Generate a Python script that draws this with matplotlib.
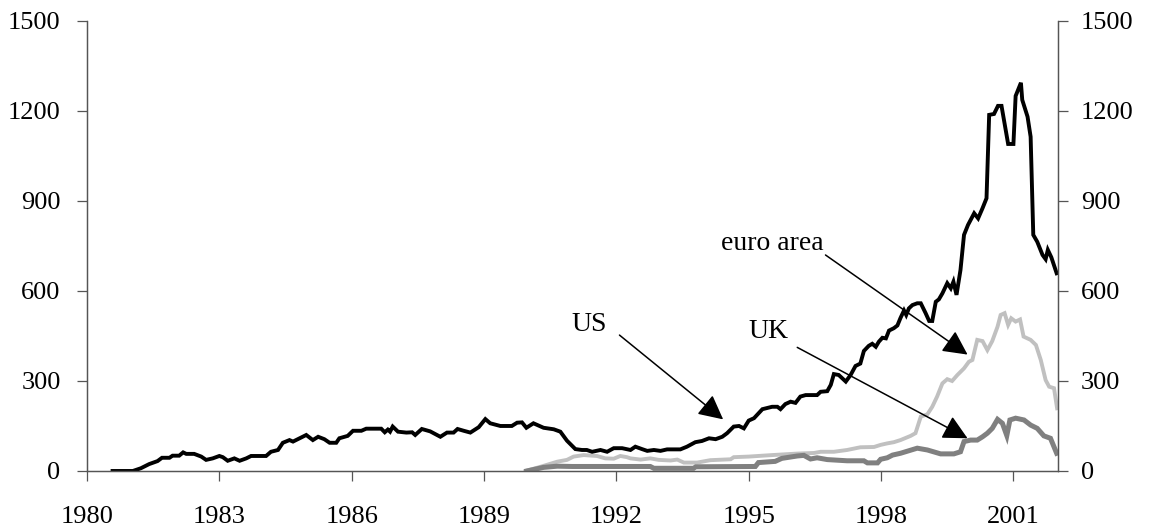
import matplotlib
matplotlib.use("Agg")
import matplotlib.pyplot as plt

plt.rcParams["font.family"] = ["Liberation Serif", "DejaVu Serif"]

us_years = [1980.58, 1981.04, 1981.22, 1981.41, 1981.60, 1981.70, 1981.87, 1981.94, 1982.09, 1982.18,
            1982.25, 1982.43, 1982.59, 1982.70, 1982.85, 1983.00, 1983.08, 1983.19, 1983.34, 1983.46,
            1983.61, 1983.72, 1984.06, 1984.17, 1984.33, 1984.44, 1984.59, 1984.67, 1984.82, 1984.97,
            1985.12, 1985.24, 1985.38, 1985.50, 1985.65, 1985.72, 1985.91, 1986.03, 1986.22, 1986.33,
            1986.67, 1986.75, 1986.82, 1986.87, 1986.93, 1987.05, 1987.24, 1987.37, 1987.44, 1987.59,
            1987.78, 1988.01, 1988.16, 1988.31, 1988.40, 1988.54, 1988.69, 1988.88, 1989.03, 1989.14,
            1989.37, 1989.63, 1989.75, 1989.86, 1989.96, 1990.12, 1990.35, 1990.58, 1990.73, 1990.88,
            1991.07, 1991.22, 1991.33, 1991.45, 1991.64, 1991.79, 1991.94, 1992.13, 1992.32, 1992.43,
            1992.58, 1992.70, 1992.85, 1993.00, 1993.15, 1993.45, 1993.60, 1993.79, 1993.94, 1994.10,
            1994.25, 1994.40, 1994.51, 1994.66, 1994.78, 1994.89, 1995.00, 1995.12, 1995.19, 1995.31,
            1995.42, 1995.53, 1995.65, 1995.72, 1995.83, 1995.95, 1996.06, 1996.17, 1996.29, 1996.55,
            1996.63, 1996.78, 1996.86, 1996.93, 1997.04, 1997.20, 1997.31, 1997.42, 1997.53, 1997.61,
            1997.72, 1997.80, 1997.88, 1997.95, 1998.03, 1998.11, 1998.18, 1998.29, 1998.37, 1998.44,
            1998.52, 1998.57, 1998.63, 1998.71, 1998.82, 1998.90, 1999.01, 1999.09, 1999.16, 1999.24,
            1999.31, 1999.39, 1999.50, 1999.58, 1999.64, 1999.71, 1999.80, 1999.88, 1999.97, 2000.11,
            2000.20, 2000.30, 2000.39, 2000.45, 2000.56, 2000.65, 2000.73, 2000.88, 2001.00, 2001.05,
            2001.17, 2001.20, 2001.32, 2001.39, 2001.45, 2001.54, 2001.66, 2001.73, 2001.78, 2001.86,
            2001.98]
us_values = [0, 0, 9, 23, 33, 44, 44, 51, 51, 62,
             57, 57, 48, 37, 42, 50, 46, 34, 42, 34,
             42, 50, 50, 64, 70, 94, 103, 98, 109, 120,
             103, 114, 106, 94, 94, 109, 117, 134, 134, 141,
             141, 129, 138, 131, 148, 131, 128, 129, 120, 140,
             132, 114, 128, 128, 140, 134, 128, 146, 173, 159,
             150, 150, 161, 162, 144, 159, 144, 139, 131, 101,
             73, 70, 70, 64, 70, 64, 76, 76, 70, 81,
             73, 67, 70, 67, 72, 72, 81, 96, 100, 109,
             106, 114, 126, 148, 150, 142, 168, 176, 187, 206,
             210, 214, 214, 206, 223, 231, 227, 248, 253, 253,
             264, 266, 287, 323, 320, 298, 320, 350, 358, 400,
             417, 424, 414, 431, 444, 442, 468, 476, 485, 510,
             535, 520, 542, 553, 559, 559, 526, 500, 500, 564,
             572, 592, 626, 609, 631, 587, 670, 787, 820, 859,
             842, 876, 909, 1187, 1190, 1217, 1217, 1090, 1090, 1250,
             1294, 1237, 1181, 1114, 787, 764, 720, 706, 737, 712,
             659]

euro_years = [1989.94, 1990.28, 1990.66, 1990.88, 1991.03, 1991.26, 1991.56, 1991.75, 1991.94, 1992.09,
              1992.24, 1992.32, 1992.55, 1992.77, 1992.96, 1993.23, 1993.38, 1993.53, 1993.83, 1994.13,
              1994.59, 1994.66, 1995.00, 1995.53, 1996.10, 1996.48, 1996.63, 1996.93, 1997.23, 1997.53,
              1997.84, 1997.99, 1998.14, 1998.29, 1998.44, 1998.67, 1998.78, 1998.90, 1999.05, 1999.16,
              1999.27, 1999.39, 1999.50, 1999.61, 1999.73, 1999.88, 1999.99, 2000.07, 2000.18, 2000.30,
              2000.41, 2000.52, 2000.64, 2000.71, 2000.80, 2000.88, 2000.95, 2001.05, 2001.15, 2001.23,
              2001.39, 2001.51, 2001.62, 2001.73, 2001.81, 2001.92, 2001.99]
euro_values = [0, 14, 31, 37, 48, 53, 50, 42, 41, 50,
               46, 42, 38, 42, 37, 35, 38, 28, 28, 36,
               39, 46, 48, 53, 58, 60, 64, 64, 70, 79,
               80, 87, 92, 96, 103, 117, 126, 181, 189, 214,
               248, 292, 306, 300, 320, 342, 364, 370, 437, 433,
               403, 433, 481, 520, 526, 487, 509, 498, 505, 448,
               437, 420, 370, 303, 281, 276, 209]

uk_years = [1989.97, 1990.35, 1990.66, 1991.00, 1992.77, 1992.85, 1993.75, 1993.80, 1995.15, 1995.22,
            1995.60, 1995.75, 1996.10, 1996.25, 1996.40, 1996.55, 1996.78, 1997.23, 1997.61, 1997.69,
            1997.92, 1997.99, 1998.14, 1998.26, 1998.44, 1998.82, 1999.05, 1999.35, 1999.65, 1999.80,
            1999.88, 2000.03, 2000.18, 2000.30, 2000.41, 2000.52, 2000.64, 2000.75, 2000.85, 2000.92,
            2001.05, 2001.24, 2001.39, 2001.54, 2001.69, 2001.84, 2001.98]
uk_values = [0, 12, 16, 15, 15, 9, 9, 14, 15, 28,
             32, 42, 50, 52, 40, 44, 38, 34, 34, 27,
             27, 39, 44, 53, 59, 76, 70, 57, 57, 64,
             98, 103, 103, 114, 126, 142, 172, 159, 118, 170,
             176, 170, 153, 142, 117, 109, 59]

year_ticks = [1980, 1983, 1986, 1989, 1992, 1995, 1998, 2001]
value_ticks = [0, 300, 600, 900, 1200, 1500]

fig = plt.figure(figsize=(11.49, 5.27), dpi=100)
ax = fig.add_axes([0.0757, 0.1063, 0.8447, 0.8539])

ax.plot(euro_years, euro_values, color="#c0c0c0", lw=2.8, solid_joinstyle="miter")
ax.plot(uk_years, uk_values, color="#808080", lw=3.6, solid_joinstyle="miter")
ax.plot(us_years, us_values, color="black", lw=2.8, solid_joinstyle="miter")

ax.set_xlim(1980, 2002)
ax.set_ylim(0, 1500)
ax.set_xticks(year_ticks)
ax.set_yticks(value_ticks)

ax2 = ax.twinx()
ax2.set_ylim(0, 1500)
ax2.set_yticks(value_ticks)

for a in (ax, ax2):
    a.spines["top"].set_visible(False)
    for s in a.spines.values():
        s.set_color("#555555")
        s.set_linewidth(0.9)
    a.tick_params(direction="out", length=7, width=0.9, color="#555555",
                  labelsize=19, labelcolor="black")
ax.tick_params(axis="y", pad=12)
ax.tick_params(axis="x", pad=18)
ax2.tick_params(axis="y", pad=10)

arrow = dict(arrowstyle="-|>,head_length=0.75,head_width=0.38", color="black",
             lw=1.1, mutation_scale=20, shrinkA=0, shrinkB=0)

ax.text(1991.38, 468, "US", fontsize=20, ha="center", va="baseline")
ax.annotate("", xy=(1994.42, 172), xytext=(1992.07, 453), arrowprops=arrow)

ax.text(1995.53, 737, "euro area", fontsize=20, ha="center", va="baseline")
ax.annotate("", xy=(1999.96, 388), xytext=(1996.74, 720), arrowprops=arrow)

ax.text(1995.45, 442, "UK", fontsize=20, ha="center", va="baseline")
ax.annotate("", xy=(1999.96, 109), xytext=(1996.10, 412), arrowprops=arrow)

fig.savefig("out.png", dpi=100)
